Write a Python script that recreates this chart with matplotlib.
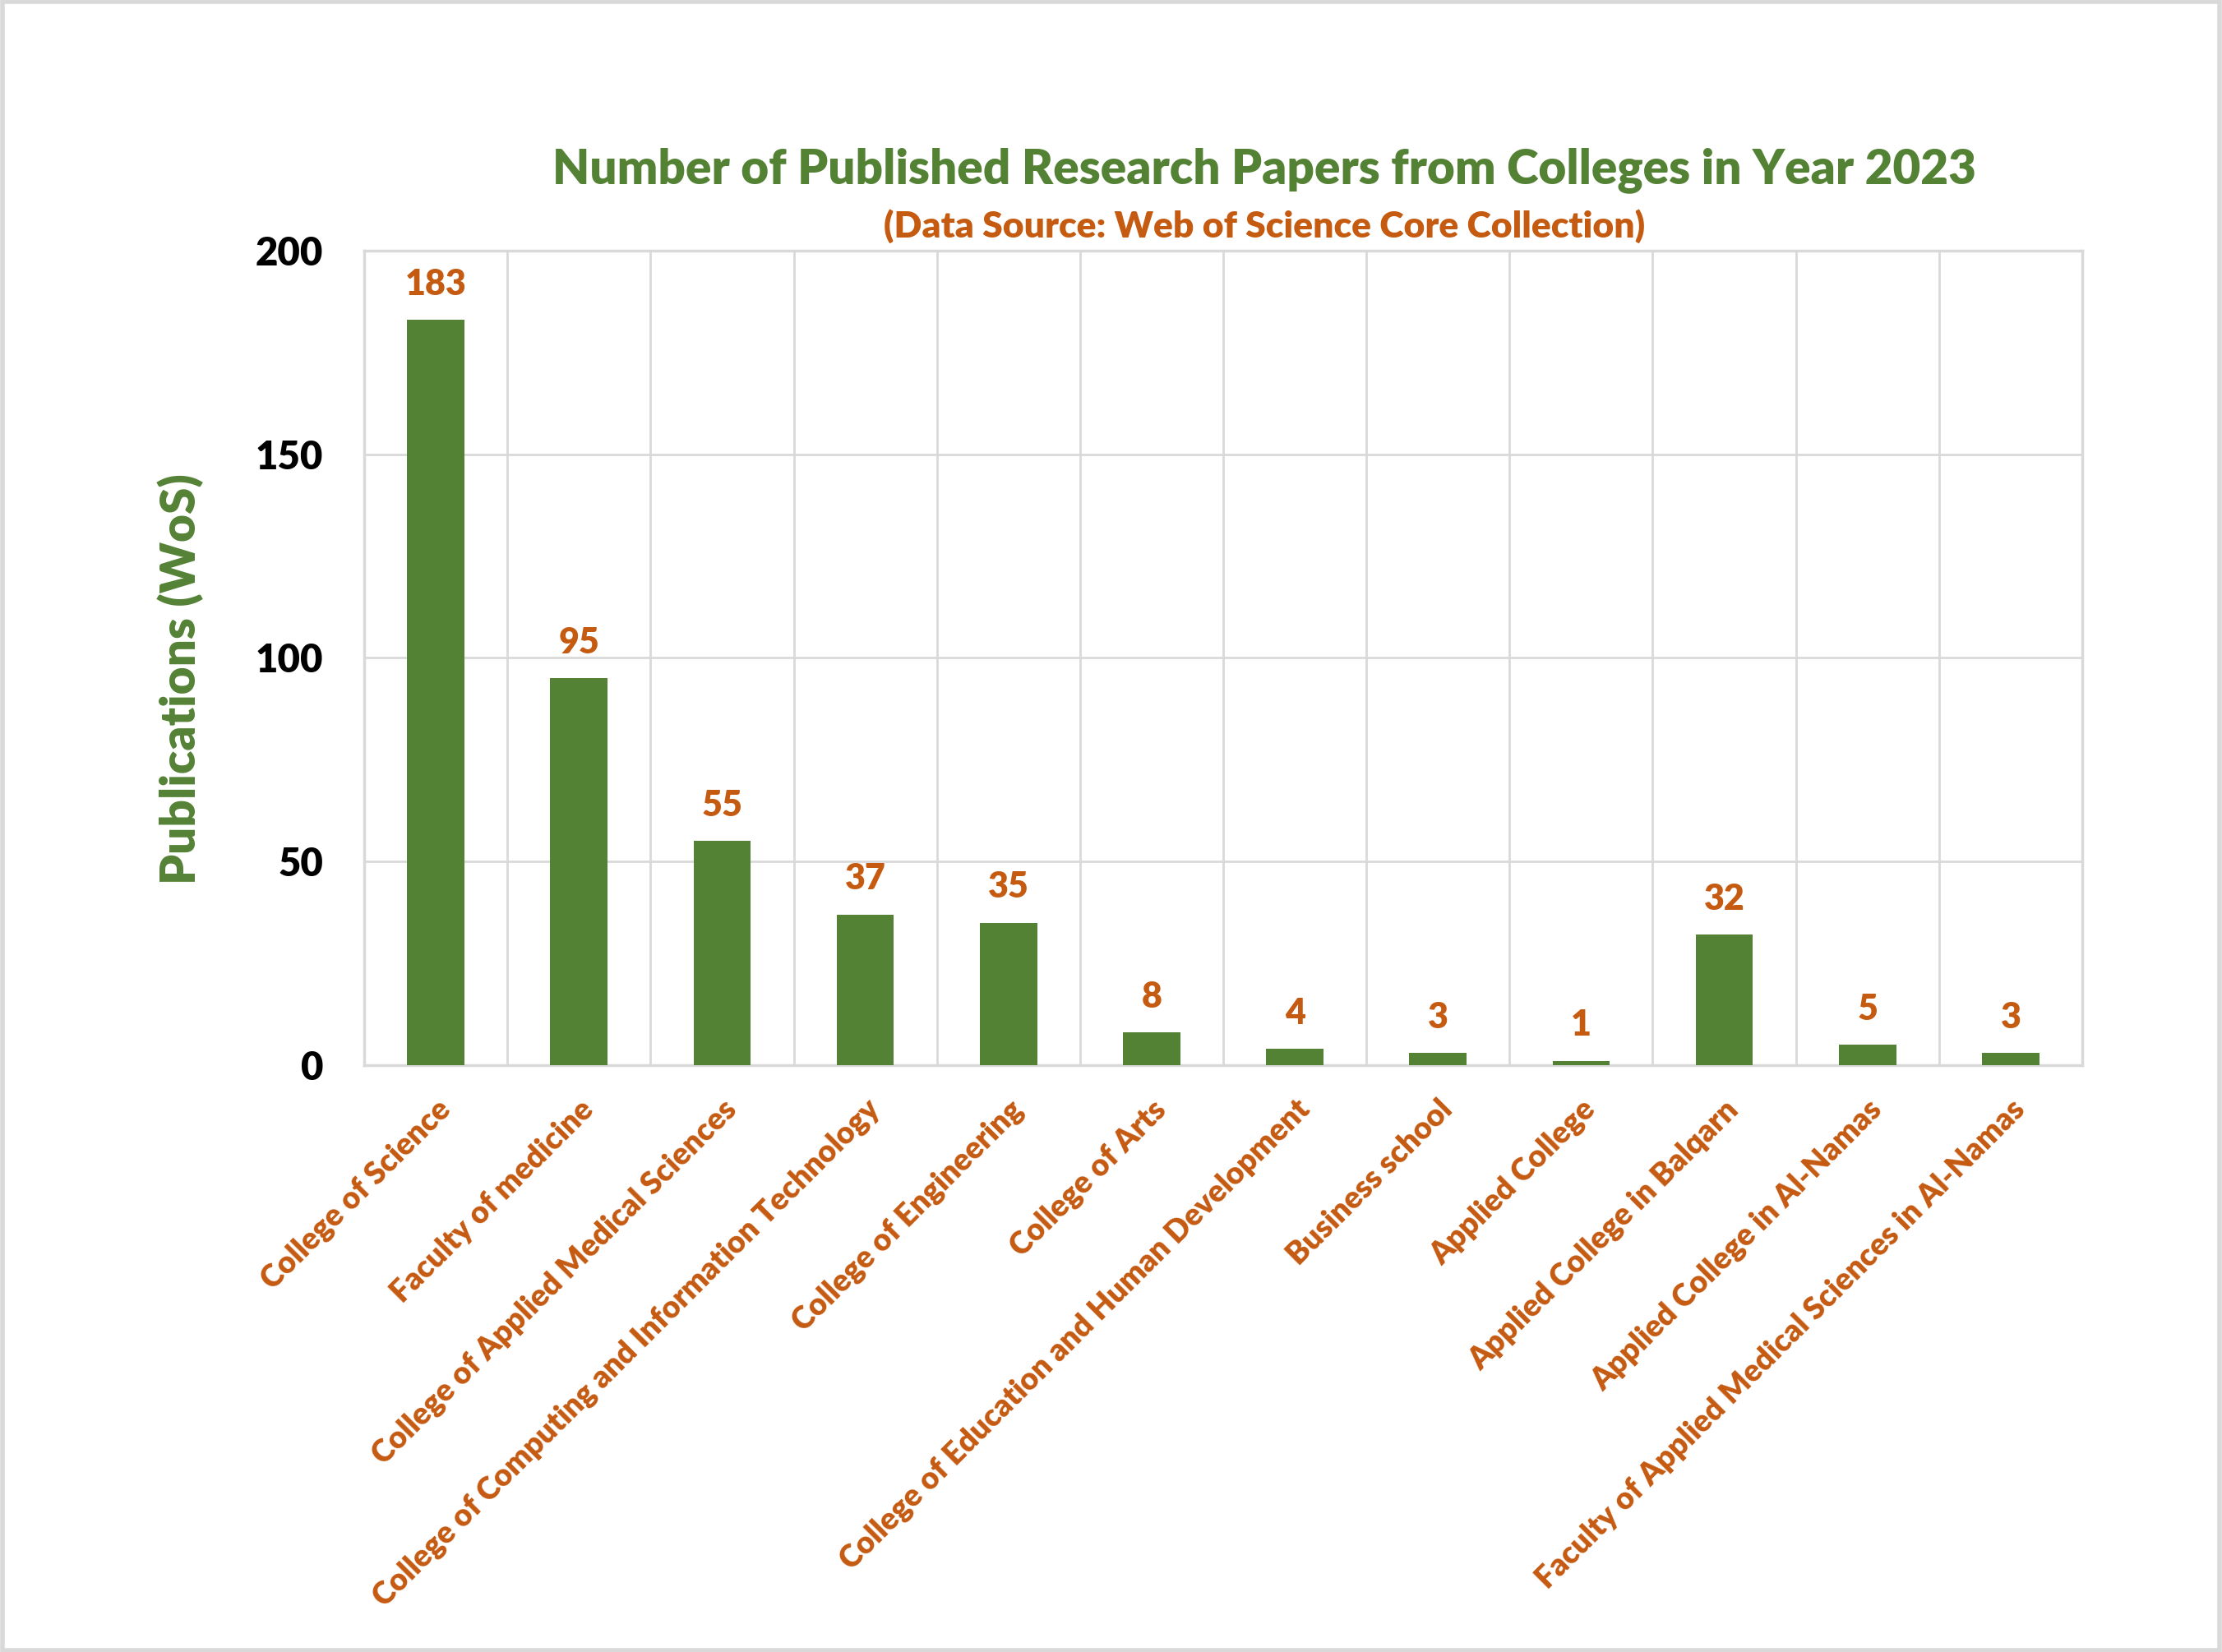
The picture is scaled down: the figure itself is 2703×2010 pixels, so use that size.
import matplotlib
matplotlib.use('Agg')
import matplotlib.pyplot as plt
from matplotlib.patches import Rectangle

colleges = ['College of Science', 'Faculty of medicine', 'College of Applied Medical Sciences',
            'College of Computing and Information Technology', 'College of Engineering',
            'College of Arts', 'College of Education and Human Development', 'Business school',
            'Applied College', 'Applied College in Balqarn', 'Applied College in Al-Namas',
            'Faculty of Applied Medical Sciences in Al-Namas']
papers = [183, 95, 55, 37, 35, 8, 4, 3, 1, 32, 5, 3]
y_ticks = [0, 50, 100, 150, 200]

green = '#548235'
orange = '#C55A11'
grid_gray = '#D9D9D9'
W = 'heavy'

plt.rcParams['font.family'] = ['Lato', 'DejaVu Sans']

fig = plt.figure(figsize=(27.03, 20.10), dpi=100)
ax = fig.add_axes([0.1639, 0.3552, 0.7732, 0.4931])

x = list(range(len(colleges)))
ax.bar(x, papers, width=0.4, color=green, zorder=3)

for xi, v in zip(x, papers):
    ax.annotate(str(v), (xi, v), xytext=(0, 17), textcoords='offset points',
                ha='center', va='bottom', color=orange, fontsize=31, fontweight=W)

ax.set_xlim(-0.5, len(colleges) - 0.5)
ax.set_ylim(0, 200)
ax.set_yticks(y_ticks)
ax.set_yticklabels([str(t) for t in y_ticks], fontsize=34, fontweight=W, color='black')
ax.set_xticks(x)
ax.set_xticklabels(colleges, rotation=45, ha='right', rotation_mode='anchor',
                   fontsize=27, fontweight=W, color=orange)
ax.tick_params(axis='x', length=0, pad=26)
ax.tick_params(axis='y', length=0, pad=36)

# grid: horizontal at ticks, vertical between categories
ax.set_xticks([i + 0.5 for i in range(len(colleges) - 1)], minor=True)
ax.grid(axis='y', which='major', color=grid_gray, linewidth=2, zorder=0)
ax.grid(axis='x', which='minor', color=grid_gray, linewidth=2, zorder=0)
ax.tick_params(axis='x', which='minor', length=0)
for s in ax.spines.values():
    s.set_color(grid_gray)
    s.set_linewidth(2.5)

ax.set_ylabel('Publications (WoS)', fontsize=42, fontweight=W, color=green, va='center')
ax.yaxis.set_label_coords(-0.107, 0.474)

fig.text(0.569, 0.897, 'Number of Published Research Papers from Colleges in Year 2023',
         ha='center', va='center', fontsize=42, fontweight=W, color=green)
fig.text(0.569, 0.863, '(Data Source: Web of Science Core Collection)',
         ha='center', va='center', fontsize=32, fontweight=W, color=orange)

fig.patches.append(Rectangle((0.001, 0.001), 0.998, 0.998, transform=fig.transFigure,
                             fill=False, edgecolor=grid_gray, linewidth=4))

fig.savefig('out.png', dpi=100, facecolor='white')
